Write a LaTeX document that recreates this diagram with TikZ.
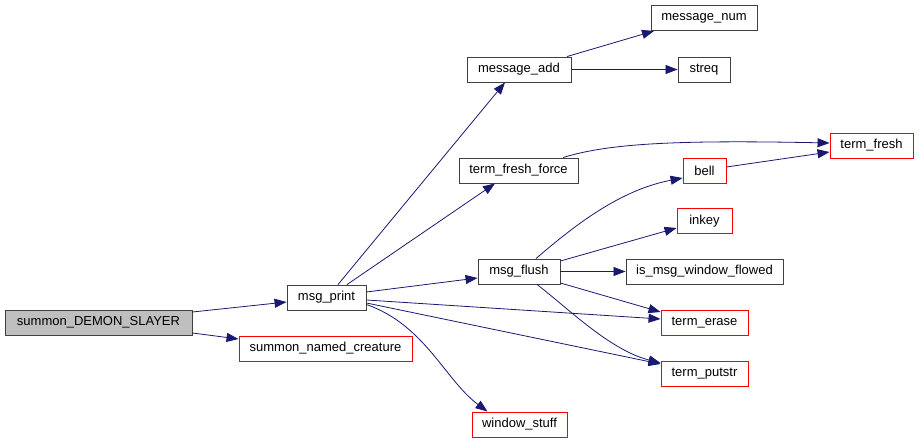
\documentclass[tikz,border=0pt]{standalone}
\usepackage{fontspec}
\setmainfont{Liberation Sans}
\usetikzlibrary{arrows.meta}
\definecolor{edgec}{HTML}{191970}
\definecolor{boxb}{HTML}{404040}
\definecolor{rootf}{HTML}{BFBFBF}
\tikzset{
  fn/.style={draw=boxb, line width=0.9pt, fill=white, inner sep=0pt, minimum height=25pt, font=\fontsize{13}{15}\selectfont, text=black},
  fnred/.style={fn, draw=red},
  fnroot/.style={fn, fill=rootf},
  call/.style={draw=edgec, line width=0.8pt, -{Triangle[length=12pt,width=9pt]}, edgec},
}
\begin{document}
\begin{tikzpicture}[x=1pt,y=-1pt]
\useasboundingbox (0,0) rectangle (919,443);
% nodes
\node[fnroot, minimum width=187pt] (sds) at (98.5,322.5) {summon\_DEMON\_SLAYER};
\node[fn, minimum width=79pt] (mp) at (326.5,297.5) {msg\_print};
\node[fnred, minimum width=173pt] (snc) at (325.5,348.5) {summon\_named\_creature};
\node[fn, minimum width=104pt] (ma) at (519,69.5) {message\_add};
\node[fn, minimum width=119pt] (tff) at (518.5,170.5) {term\_fresh\_force};
\node[fn, minimum width=82pt] (mf) at (519,271.5) {msg\_flush};
\node[fnred, minimum width=95pt] (ws) at (519.5,424.5) {window\_stuff};
\node[fn, minimum width=106pt] (mn) at (704,18) {message\_num};
\node[fn, minimum width=52pt] (sq) at (704,69.5) {streq};
\node[fnred, minimum width=43pt] (bell) at (704.5,170.5) {bell};
\node[fnred, minimum width=55pt] (ink) at (704.5,221) {inkey};
\node[fn, minimum width=157pt] (imwf) at (704.5,271.5) {is\_msg\_window\_flowed};
\node[fnred, minimum width=87pt] (te) at (704.5,322.5) {term\_erase};
\node[fnred, minimum width=87pt] (tp) at (704.5,373.5) {term\_putstr};
\node[fnred, minimum width=83pt] (tf) at (871.5,145.5) {term\_fresh};
% edges
\draw[call] ([yshift=10.5pt]sds.east) -- ([yshift=-4.5pt]mp.west);
\draw[call] ([yshift=-10.5pt]sds.east) -- ([yshift=9.5pt]snc.west);
\draw[call] ([xshift=11.5pt]mp.north) -- ([xshift=-14pt]ma.south);
\draw[call] ([xshift=20.5pt]mp.north) -- ([xshift=-23.5pt]tff.south);
\draw[call] ([yshift=5.5pt]mp.east) -- ([yshift=-6.5pt]mf.west);
\draw[call] ([yshift=-2.5pt]mp.east) -- ([yshift=3.5pt]te.west);
\draw[call] ([yshift=-5.5pt]mp.east) -- ([yshift=9.5pt]tp.west);
\draw[call] ([yshift=-7pt]mp.east) .. controls (425,325) and (445,380) .. ([xshift=-32pt]ws.north);
\draw[call] ([xshift=48pt]ma.north) -- ([xshift=-50pt]mn.south);
\draw[call] (ma.east) -- (sq.west);
\draw[call] ([xshift=44.5pt]tff.north) .. controls (610,143) and (680,140) .. ([yshift=2.5pt]tf.west);
\draw[call] ([yshift=3.5pt]bell.east) -- ([yshift=-6.5pt]tf.west);
\draw[call] ([xshift=17pt]mf.north) .. controls (575,225) and (620,190) .. ([yshift=-7.5pt]bell.west);
\draw[call] ([yshift=10.5pt]mf.east) -- ([yshift=-7pt]ink.west);
\draw[call] (mf.east) -- (imwf.west);
\draw[call] ([yshift=-11.5pt]mf.east) -- ([yshift=10.5pt]te.west);
\draw[call] ([xshift=18pt]mf.south) .. controls (570,310) and (610,350) .. ([yshift=10.5pt]tp.west);
\end{tikzpicture}
\end{document}
